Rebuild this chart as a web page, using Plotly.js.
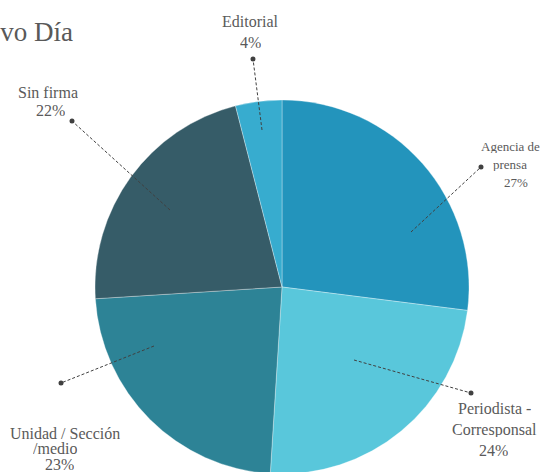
<!DOCTYPE html>
<html>
<head>
<meta charset="utf-8">
<script src="https://cdn.plot.ly/plotly-3.0.1.min.js"></script>
<style>
html,body{margin:0;padding:0;overflow:hidden;background:#fff;}
#chart{width:541px;height:476px;}
</style>
</head>
<body>
<div id="chart"></div>
<script>
// ---- data ----
const categories = ["Agencia de prensa", "Periodista - Corresponsal", "Unidad / Sección /medio", "Sin firma", "Editorial"];
const labelLines = [["Agencia de", "prensa"], ["Periodista -", "Corresponsal"], ["Unidad / Sección", "/medio"], ["Sin firma"], ["Editorial"]];
const shares = [27, 24, 23, 22, 4];
const sliceColors = ["#2394BC", "#59C7DB", "#2D8396", "#365C68", "#37ACCF"];
const chartTitle = "Nuevo Día";

// ---- layout helpers (pixel -> paper) ----
const W = 541, H = 476;
const px = x => x / W;
const py = y => (H - y) / H;

// label placement (pixels): per-line text centres, dot, inner end of leader
const place = [
  {lines: [[510, 146], [510, 164], [516, 182]], dot: [481, 167], inner: [411, 232], size: 13},
  {lines: [[494, 408], [494, 430], [493, 450]], dot: [471, 393], inner: [354, 360], size: 16},
  {lines: [[65, 433], [55, 448], [59, 464]],    dot: [61, 383],  inner: [154, 346], size: 16},
  {lines: [[48, 92], [50, 110]],                dot: [72, 121],  inner: [170, 210], size: 16},
  {lines: [[250, 21], [250, 42]],               dot: [253, 59],  inner: [262, 130], size: 16}
];

const annotations = [];
const shapes = [];
categories.forEach((c, i) => {
  const p = place[i];
  const texts = labelLines[i].concat([shares[i] + "%"]);
  texts.forEach((t, k) => {
    const pos = p.lines[k];
    annotations.push({
      xref: "paper", yref: "paper", x: px(pos[0]), y: py(pos[1]),
      xanchor: "center", yanchor: "middle", showarrow: false,
      text: t, height: 14, valign: "middle", borderpad: 0,
      font: {family: "Liberation Serif, serif", size: p.size, color: "#5a5a5a"}
    });
  });
  shapes.push({
    type: "line", xref: "paper", yref: "paper",
    x0: px(p.inner[0]), y0: py(p.inner[1]), x1: px(p.dot[0]), y1: py(p.dot[1]),
    line: {color: "#404040", width: 1, dash: "3px,2px"}
  });
  shapes.push({
    type: "circle", xref: "paper", yref: "paper",
    x0: px(p.dot[0] - 2.5), x1: px(p.dot[0] + 2.5),
    y0: py(p.dot[1] + 2.5), y1: py(p.dot[1] - 2.5),
    fillcolor: "#404040", line: {width: 0}
  });
});

const cx = 282, cy = 287, r = 187;
const trace = {
  type: "pie",
  labels: categories,
  values: shares,
  sort: false,
  direction: "clockwise",
  rotation: 0,
  textinfo: "none",
  hoverinfo: "label+percent",
  marker: {colors: sliceColors, line: {color: "rgba(255,255,255,0.45)", width: 0.7}},
  domain: {x: [px(cx - r), px(cx + r)], y: [py(cy + r), py(cy - r)]}
};

const layout = {
  width: W, height: H,
  margin: {l: 0, r: 0, t: 0, b: 0},
  paper_bgcolor: "#ffffff",
  showlegend: false,
  title: {
    text: chartTitle, xref: "container", yref: "container",
    x: 73 / W, xanchor: "right", y: (H - 32) / H, yanchor: "middle",
    font: {family: "Liberation Serif, serif", size: 27, color: "#595959"}
  },
  annotations: annotations,
  shapes: shapes
};

Plotly.newPlot("chart", [trace], layout, {displayModeBar: false, staticPlot: true});
</script>
</body>
</html>
